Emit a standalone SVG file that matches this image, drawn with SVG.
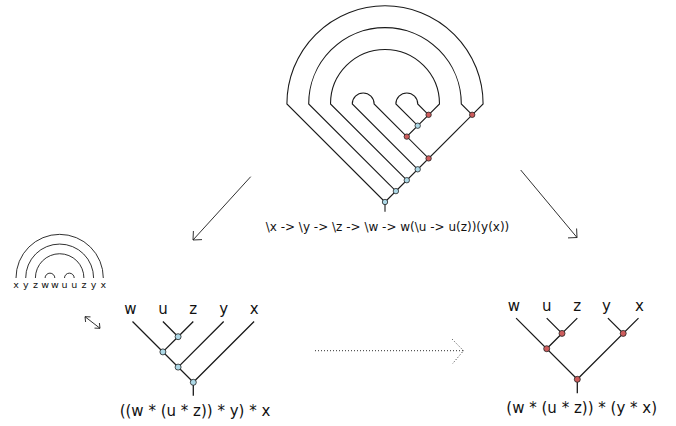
<svg xmlns="http://www.w3.org/2000/svg" width="676" height="426" viewBox="0 0 676 426">
<defs>
<style>
.w{fill:none;stroke:#1a1a1a;stroke-width:1.1}
.t{fill:none;stroke:#1a1a1a;stroke-width:1.3}
.a{fill:none;stroke:#1a1a1a;stroke-width:0.9}
.lam{fill:#add8e6;stroke:#222;stroke-width:0.8}
.app{fill:#cd5c5c;stroke:#222;stroke-width:0.8}
.txt{font-family:"DejaVu Sans",sans-serif;fill:#111}
.lbl{font-family:"DejaVu Sans",sans-serif;fill:#111;font-size:15px;text-anchor:middle}
.sm{font-family:"DejaVu Sans",sans-serif;fill:#111;font-size:9.5px;text-anchor:middle}
</style>
</defs>
<rect width="676" height="426" fill="#fff"/>

<!-- Big lambda diagram -->
<g id="connectors">
<path class="w" d="M385,211.7 L385,202"/>
<path class="w" d="M385,202 L286.9,103.9 A98.1,98.1 0 0 1 483.1,103.9 L472.2,114.8"/>
<path class="w" d="M395.9,191.1 L308.7,103.9 A76.3,76.3 0 0 1 461.3,103.9 L472.2,114.8"/>
<path class="w" d="M406.8,180.2 L330.5,103.9 A54.5,54.5 0 0 1 439.5,103.9 L428.6,114.8"/>
<path class="w" d="M417.7,169.3 L352.3,103.9 A10.9,10.9 0 0 1 374.1,103.9 L406.8,136.6"/>
<path class="w" d="M417.7,125.7 L395.9,103.9 A10.9,10.9 0 0 1 417.7,103.9 L428.6,114.8"/>
<path class="w" d="M385,202 L472.2,114.8"/>
<path class="w" d="M428.6,114.8 L406.8,136.6 L428.6,158.4"/>

<!-- left tree -->
<path class="t" d="M193.3,395.7 L193.3,382.3 L132.5,321.5 M162.9,351.9 L178.1,336.7 L162.9,321.5 M178.1,336.7 L193.3,321.5 M178.1,367.1 L223.7,321.5 M193.3,382.3 L254.1,321.5"/>
<!-- right tree -->
<path class="t" d="M577.3,393.3 L577.3,379.3 L516.1,318.1 M546.7,348.7 L562,333.4 L546.7,318.1 M562,333.4 L577.3,318.1 M577.3,379.3 L638.5,318.1 M623.2,333.4 L607.9,318.1"/>

<!-- small arc diagram -->
<path class="a" d="M16,278 A43.65,43.65 0 0 1 103.3,278 M25.7,278 A33.95,33.95 0 0 1 93.6,278 M35.4,278 A24.25,24.25 0 0 1 83.9,278 M45.1,278 A4.85,4.85 0 0 1 54.8,278 M64.5,278 A4.85,4.85 0 0 1 74.2,278"/>

<!-- arrows -->
<path class="a" d="M250.7,176.7 L193,240 M193,240 L193.4,231 M193,240 L202,239.6"/>
<path class="a" d="M520.7,170 L577,237.5 M577,237.5 L576.6,228.5 M577,237.5 L568,237.9"/>
<path class="a" d="M85,316.7 L100,328.3 M85,316.7 L90.5,316.9 M85,316.7 L85.6,322 M100,328.3 L94.5,328.1 M100,328.3 L99.4,323"/>
<path class="a" stroke-dasharray="1,2" d="M315,350.7 L463,350.7 M452.3,339.3 L463.5,350.7 L452.3,364"/>
</g>

<g id="lambda-nodes">
<circle class="app" cx="428.6" cy="114.8" r="2.7"/>
<circle class="app" cx="472.2" cy="114.8" r="2.7"/>
<circle class="lam" cx="417.7" cy="125.7" r="2.7"/>
<circle class="app" cx="406.8" cy="136.6" r="2.7"/>
<circle class="app" cx="428.6" cy="158.4" r="2.7"/>
<circle class="lam" cx="417.7" cy="169.3" r="2.7"/>
<circle class="lam" cx="406.8" cy="180.2" r="2.7"/>
<circle class="lam" cx="395.9" cy="191.1" r="2.7"/>
<circle class="lam" cx="385" cy="202" r="2.7"/>
</g>
<g id="lambda-label">
<text class="txt" x="387.5" y="231" font-size="12" text-anchor="middle">\x -&gt; \y -&gt; \z -&gt; \w -&gt; w(\u -&gt; u(z))(y(x))</text>
</g>

<g id="arc-diagram-labels">
<text class="sm" x="16" y="288">x</text>
<text class="sm" x="25.7" y="288">y</text>
<text class="sm" x="35.4" y="288">z</text>
<text class="sm" x="45.1" y="288">w</text>
<text class="sm" x="54.8" y="288">w</text>
<text class="sm" x="64.5" y="288">u</text>
<text class="sm" x="74.2" y="288">u</text>
<text class="sm" x="83.9" y="288">z</text>
<text class="sm" x="93.6" y="288">y</text>
<text class="sm" x="103.3" y="288">x</text>
</g>

<g id="left-tree">
<text class="lbl" x="130.5" y="313.5">w</text>
<text class="lbl" x="162.9" y="313.5">u</text>
<text class="lbl" x="193.3" y="313.5">z</text>
<text class="lbl" x="223.7" y="313.5">y</text>
<text class="lbl" x="254.1" y="313.5">x</text>
<circle class="lam" cx="178.1" cy="336.7" r="3"/>
<circle class="lam" cx="162.9" cy="351.9" r="3"/>
<circle class="lam" cx="178.1" cy="367.1" r="3"/>
<circle class="lam" cx="193.3" cy="382.3" r="3"/>
<text class="lbl" x="195" y="416">((w * (u * z)) * y) * x</text>
</g>

<g id="right-tree">
<text class="lbl" x="514" y="310.5">w</text>
<text class="lbl" x="546.7" y="310.5">u</text>
<text class="lbl" x="577.3" y="310.5">z</text>
<text class="lbl" x="606.5" y="310.5">y</text>
<text class="lbl" x="639.5" y="310.5">x</text>
<circle class="app" cx="562" cy="333.4" r="3"/>
<circle class="app" cx="546.7" cy="348.7" r="3"/>
<circle class="app" cx="623.2" cy="333.4" r="3"/>
<circle class="app" cx="577.3" cy="379.3" r="3"/>
<text class="lbl" x="581.7" y="412.5">(w * (u * z)) * (y * x)</text>
</g>
</svg>
